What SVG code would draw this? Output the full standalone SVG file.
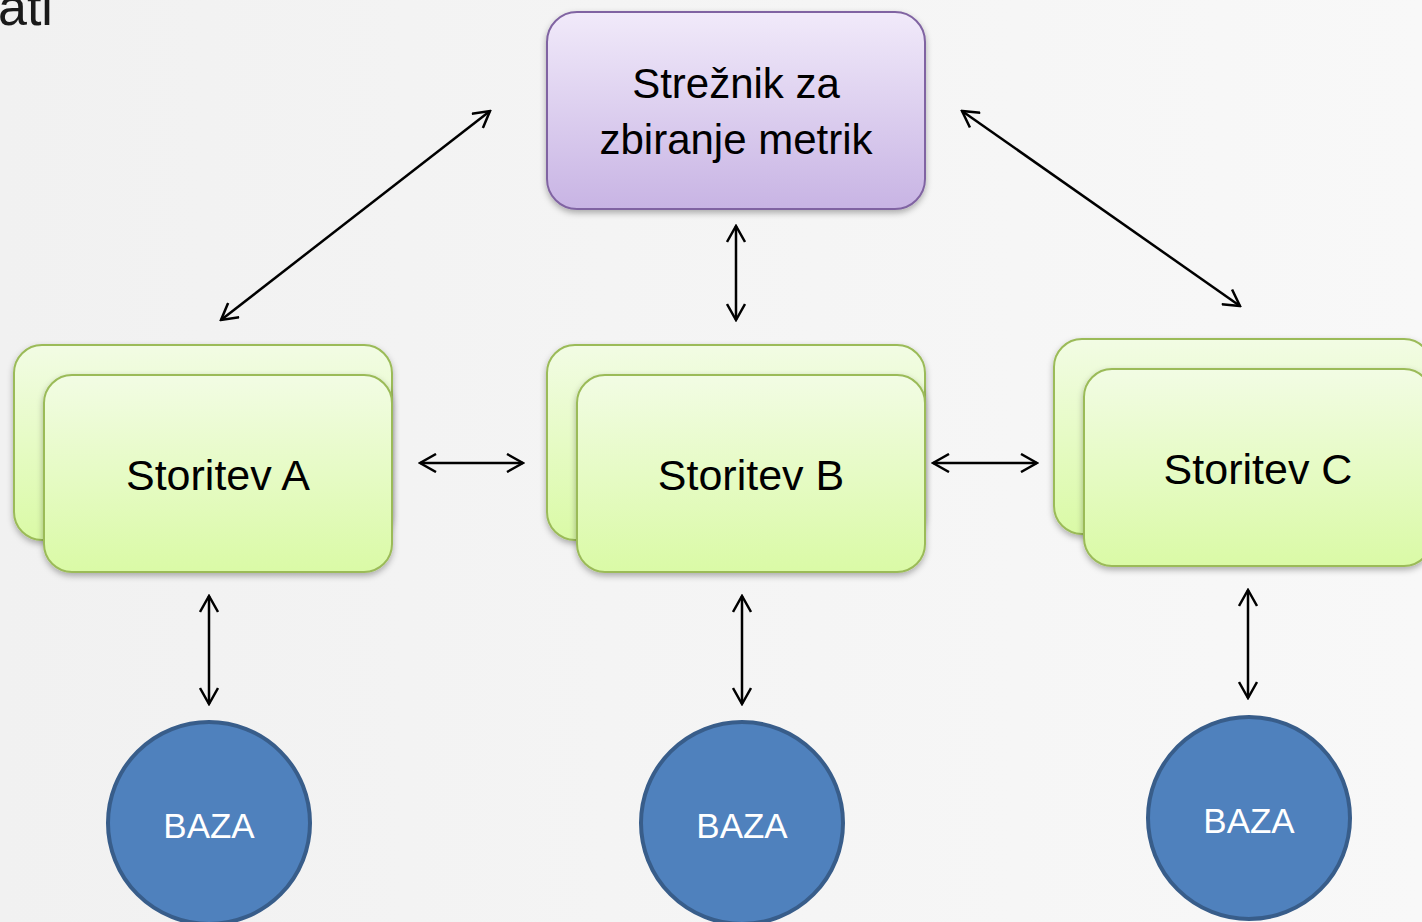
<svg xmlns="http://www.w3.org/2000/svg" width="1422" height="922" viewBox="0 0 1422 922">
<defs>
<linearGradient id="bg" x1="0" y1="0" x2="1" y2="0">
<stop offset="0" stop-color="#f1f1f1"/><stop offset="1" stop-color="#f8f8f8"/>
</linearGradient>
<linearGradient id="purple" x1="0" y1="0" x2="0" y2="1">
<stop offset="0" stop-color="#f1eafa"/><stop offset="1" stop-color="#c8b4e4"/>
</linearGradient>
<linearGradient id="green" x1="0" y1="0" x2="0" y2="1">
<stop offset="0" stop-color="#f2fce4"/><stop offset="1" stop-color="#dafaa6"/>
</linearGradient>
<filter id="sh" x="-10%" y="-10%" width="120%" height="130%">
<feDropShadow dx="0" dy="3" stdDeviation="3" flood-color="#000" flood-opacity="0.3"/>
</filter>
<marker id="ah" viewBox="0 0 20 20" refX="18" refY="10" markerWidth="20" markerHeight="20" markerUnits="userSpaceOnUse" orient="auto-start-reverse">
<path d="M2,1 L18,10 L2,19" fill="none" stroke="#000" stroke-width="2.5"/>
</marker>
</defs>
<style>
.srv{fill:url(#purple);stroke:#8064a2;stroke-width:2;filter:url(#sh)}
.svc{fill:url(#green);stroke:#9bbb59;stroke-width:2;filter:url(#sh)}
.lbl{font-family:"Liberation Sans",Arial,sans-serif;fill:#000;text-anchor:middle}
.db{fill:#4f81bd;stroke:#385d8a;stroke-width:4}
.dbt{font-family:"Liberation Sans",Arial,sans-serif;fill:#fff;font-size:35px;text-anchor:middle}
.con{stroke:#000;stroke-width:2.5;fill:none;marker-start:url(#ah);marker-end:url(#ah)}
</style>
<rect width="1422" height="922" fill="url(#bg)"/>
<text x="-2" y="25" font-family="Liberation Sans, Arial, sans-serif" font-size="52" fill="#1a1a1a">ati</text>

<g id="server">
<rect class="srv" x="547" y="12" width="378" height="197" rx="30"/>
<text class="lbl" x="736" y="98" font-size="42">Strežnik za</text>
<text class="lbl" x="736" y="154" font-size="42">zbiranje metrik</text>
</g>

<g id="storitev-a">
<rect class="svc" x="14" y="345" width="378" height="195" rx="28"/>
<rect class="svc" x="44" y="375" width="348" height="197" rx="28"/>
<text class="lbl" x="218" y="490" font-size="43">Storitev A</text>
</g>

<g id="storitev-b">
<rect class="svc" x="547" y="345" width="378" height="195" rx="28"/>
<rect class="svc" x="577" y="375" width="348" height="197" rx="28"/>
<text class="lbl" x="751" y="490" font-size="43">Storitev B</text>
</g>

<g id="storitev-c">
<rect class="svc" x="1054" y="339" width="378" height="195" rx="28"/>
<rect class="svc" x="1084" y="369" width="348" height="197" rx="28"/>
<text class="lbl" x="1258" y="484" font-size="43">Storitev C</text>
</g>

<g id="baza-a">
<circle class="db" cx="209" cy="823" r="101"/>
<text class="dbt" x="209" y="838">BAZA</text>
</g>
<g id="baza-b">
<circle class="db" cx="742" cy="823" r="101"/>
<text class="dbt" x="742" y="838">BAZA</text>
</g>
<g id="baza-c">
<circle class="db" cx="1249" cy="818" r="101"/>
<text class="dbt" x="1249" y="833">BAZA</text>
</g>

<g id="connectors">
<line class="con" x1="221" y1="320" x2="490" y2="111"/>
<line class="con" x1="736" y1="226" x2="736" y2="320"/>
<line class="con" x1="962" y1="111" x2="1240" y2="306"/>
<line class="con" x1="420" y1="463" x2="523" y2="463"/>
<line class="con" x1="933" y1="463" x2="1037" y2="463"/>
<line class="con" x1="209" y1="596" x2="209" y2="704"/>
<line class="con" x1="742" y1="596" x2="742" y2="704"/>
<line class="con" x1="1248" y1="590" x2="1248" y2="698"/>
</g>
</svg>
